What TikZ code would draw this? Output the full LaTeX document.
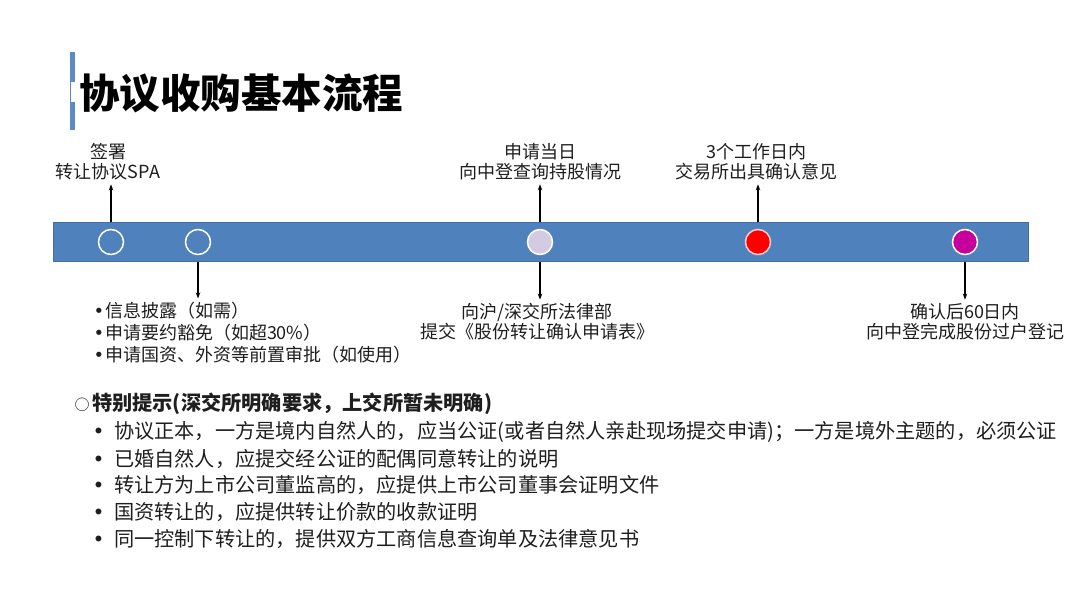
\documentclass[tikz,border=0pt]{standalone}
\usepackage{fontspec}
\setmainfont{Noto Sans CJK SC}
\newfontfamily\symfont{DejaVu Sans}
\usetikzlibrary{arrows.meta}
\definecolor{barblue}{HTML}{4F81BD}
\definecolor{baredge}{HTML}{41719C}
\definecolor{titlebar}{HTML}{5B8AC6}
\definecolor{txt}{HTML}{1E1E1E}
\definecolor{lavender}{HTML}{D3CBE2}
\definecolor{dotred}{HTML}{FF0000}
\definecolor{dotmag}{HTML}{C8009B}
\tikzset{
  lbl/.style={align=center, inner sep=0pt, outer sep=4pt, text=txt, font=\fontsize{18}{20}\selectfont},
  lst/.style={align=left, inner sep=0pt, outer sep=4pt, text=txt, font=\fontsize{18}{22}\selectfont},
  note/.style={anchor=west, inner sep=0pt, text=txt, font=\fontsize{20.2}{24}\selectfont},
  dot/.style={circle, minimum size=25pt, inner sep=0pt, line width=1.5pt},
  arr/.style={-{Stealth[length=6pt,width=4.5pt]}, line width=1.3pt, black}
}
\newcommand{\bul}[1]{\makebox[#1][c]{\symfont •}}
\begin{document}
\begin{tikzpicture}[x=1pt,y=-1pt]
\useasboundingbox (0,0) rectangle (1080,608);
% title
\fill[titlebar] (70,52) rectangle (74.5,130);
\fill[white] (71.2,82) rectangle (74.5,102);
\node[anchor=west, inner sep=0pt, font=\fontsize{40.5}{40}\selectfont\bfseries, text=black] (title) at (79,93) {协议收购基本流程};
% timeline bar
\node[draw=baredge, fill=barblue, line width=1pt, minimum width=975pt, minimum height=39pt, inner sep=0pt, anchor=north west] (bar) at (53,222) {};
\node[dot, draw=white] (c1) at (111,242) {};
\node[dot, draw=white] (c2) at (198,242) {};
\node[dot, draw=white, fill=lavender] (c3) at (540,242) {};
\node[dot, draw=white!80!red, fill=dotred] (c4) at (758,242) {};
\node[dot, draw=white, fill=dotmag] (c5) at (965,242) {};
% labels above
\node[lbl] (l1) at (108,162) {签署\\转让协议SPA};
\node[lbl] (l3) at (540,162) {申请当日\\向中登查询持股情况};
\node[lbl] (l4) at (756,162) {3个工作日内\\交易所出具确认意见};
% labels below
\node[lst, anchor=west] (l2) at (89,333) {\bul{12pt}信息披露（如需）\\\bul{12pt}申请要约豁免（如超30\%）\\\bul{12pt}申请国资、外资等前置审批（如使用）};
\node[lbl] (l3b) at (537,322) {向沪/深交所法律部\\提交《股份转让确认申请表》};
\node[lbl] (l5) at (965,322) {确认后60日内\\向中登完成股份过户登记};
% arrows
\draw[arr] (c1 |- bar.north) -- (l1.south -| c1);
\draw[arr] (c3 |- bar.north) -- (l3.south -| c3);
\draw[arr] (c4 |- bar.north) -- (l4.south -| c4);
\draw[arr] (c2 |- bar.south) -- (l2.north -| c2);
\draw[arr] (c3 |- bar.south) -- (l3b.north -| c3);
\draw[arr] (c5 |- bar.south) -- (l5.north -| c5);
% notes
\node[note] (h) at (72,404) {\makebox[20pt][c]{\fontsize{15}{15}\selectfont ○}\bfseries 特别提示(深交所明确要求，上交所暂未明确)};
\node[note] (n1) at (83,432) {\bul{31pt}协议正本，一方是境内自然人的，应当公证(或者自然人亲赴现场提交申请)；一方是境外主题的，必须公证};
\node[note] (n2) at (83,459) {\bul{31pt}已婚自然人，应提交经公证的配偶同意转让的说明};
\node[note] (n3) at (83,485) {\bul{31pt}转让方为上市公司董监高的，应提供上市公司董事会证明文件};
\node[note] (n4) at (83,512) {\bul{31pt}国资转让的，应提供转让价款的收款证明};
\node[note] (n5) at (83,539) {\bul{31pt}同一控制下转让的，提供双方工商信息查询单及法律意见书};
\end{tikzpicture}
\end{document}
